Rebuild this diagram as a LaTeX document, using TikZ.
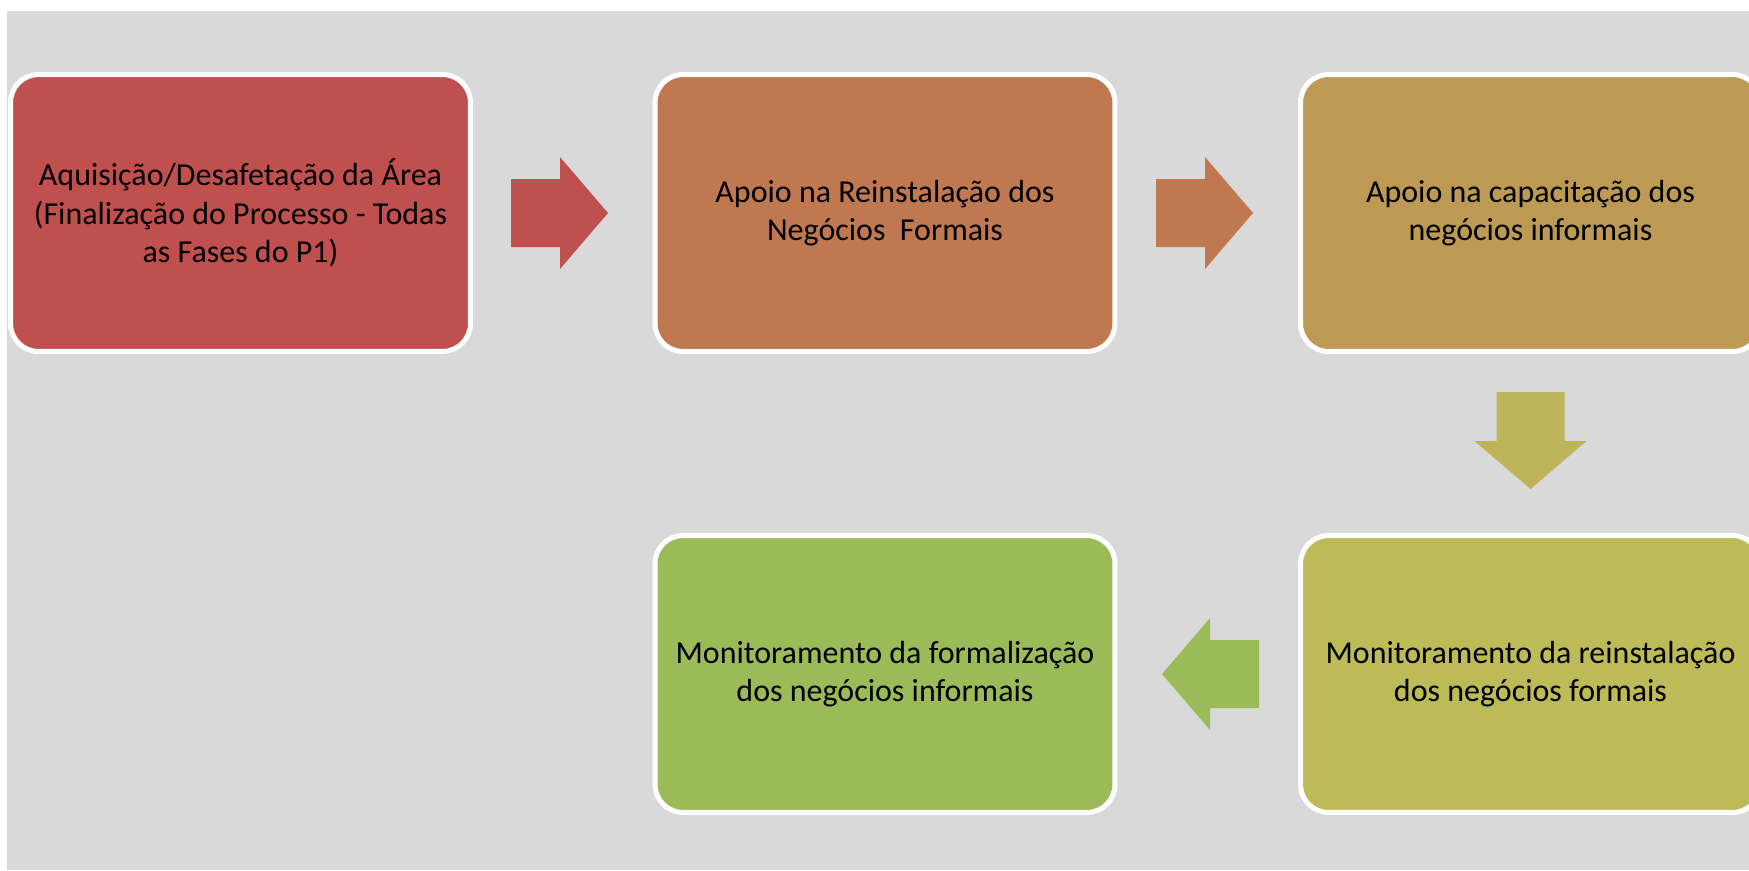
\documentclass[tikz,border=0pt]{standalone}
\usepackage{fontspec}
\setmainfont{Carlito}
\definecolor{bgGray}{HTML}{D9D9D9}
\definecolor{stageA}{HTML}{C0504D}
\definecolor{stageB}{HTML}{BF7850}
\definecolor{stageC}{HTML}{BD9A53}
\definecolor{stageD}{HTML}{BCBB58}
\definecolor{stageE}{HTML}{9BBB59}
\definecolor{arrowC}{HTML}{BDB358}
\begin{document}
\begin{tikzpicture}[x=0.02cm,y=-0.02cm,
  stage/.style={draw=white,line width=2.85pt,rounded corners=0.56cm,
    minimum width=9.2cm,minimum height=5.54cm,inner sep=0pt,align=center,
    font=\fontsize{18.2}{21.8}\selectfont,text=black}]

\useasboundingbox (0,0) rectangle (1749,870);
\fill[bgGray] (7,11) rectangle (1749,870);

%top row
\node[stage,fill=stageA] (aquisicao) at (240.5,213) {Aquisição/Desafetação da Área\\(Finalização do Processo - Todas\\as Fases do P1)};
\node[stage,fill=stageB] (reinstalacao) at (885,213) {Apoio na Reinstalação dos\\Negócios~~Formais};
\node[stage,fill=stageC] (capacitacao) at (1530.5,213) {Apoio na capacitação dos\\negócios informais};

%bottom row
\node[stage,fill=stageD] (monreinst) at (1530.5,674) {Monitoramento da reinstalação\\dos negócios formais};
\node[stage,fill=stageE] (monformal) at (885,674) {Monitoramento da formalização\\dos negócios informais};

%block arrows between the stages
\fill[stageA] (511,179) -- (560,179) -- (560,157) -- (608,213) -- (560,269) -- (560,247) -- (511,247) -- cycle;
\fill[stageB] (1156,179) -- (1205,179) -- (1205,157) -- (1253,213) -- (1205,269) -- (1205,247) -- (1156,247) -- cycle;
\fill[arrowC] (1496.5,392) -- (1564.5,392) -- (1564.5,441) -- (1586.5,441) -- (1530.5,489) -- (1474.5,441) -- (1496.5,441) -- cycle;
\fill[stageE] (1259,640) -- (1210,640) -- (1210,618) -- (1162,674) -- (1210,730) -- (1210,708) -- (1259,708) -- cycle;

\end{tikzpicture}
\end{document}
